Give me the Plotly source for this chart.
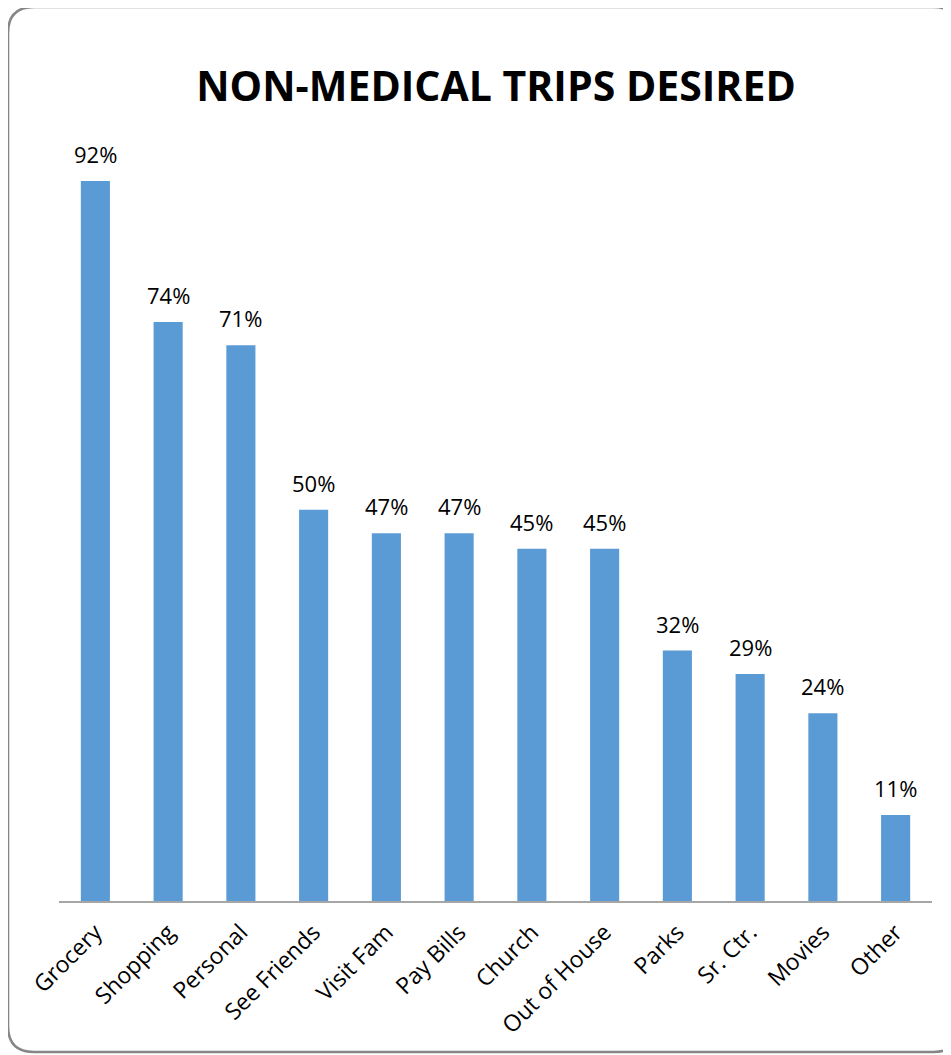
import plotly.graph_objects as go

categories = ["Grocery", "Shopping", "Personal", "See Friends", "Visit Fam", "Pay Bills",
              "Church", "Out of House", "Parks", "Sr. Ctr.", "Movies", "Other"]
values = [92, 74, 71, 50, 47, 47, 45, 45, 32, 29, 24, 11]
labels = [f"{v}%" for v in values]

BAR = "#5B9BD5"
OFF = 8  # page body margin
W, H = 951 - OFF, 1055 - OFF
L, R, T, B = 59 - OFF, 951 - 932.5, 140 - OFF, 1055 - 901
pw, ph = W - L - R, H - T - B

fig = go.Figure(go.Bar(x=categories, y=values, marker_color=BAR, marker_line_width=0,
                       hoverinfo="skip"))

for c, v, t in zip(categories, values, labels):
    fig.add_annotation(x=c, y=v, text=t, showarrow=False, yanchor="bottom", yshift=10,
                       font=dict(family="Open Sans, Noto Sans, sans-serif", size=22, color="#000"))

def px(x):
    return (x - OFF - L) / pw

def py(y):
    return (H - B - (y - OFF)) / ph

x0, x1, y0, y1, r = 8, 960, 7, 1052, 26
path = (f"M {px(x0+r)},{py(y0)} L {px(x1-r)},{py(y0)} Q {px(x1)},{py(y0)} {px(x1)},{py(y0+r)} "
        f"L {px(x1)},{py(y1-r)} Q {px(x1)},{py(y1)} {px(x1-r)},{py(y1)} "
        f"L {px(x0+r)},{py(y1)} Q {px(x0)},{py(y1)} {px(x0)},{py(y1-r)} "
        f"L {px(x0)},{py(y0+r)} Q {px(x0)},{py(y0)} {px(x0+r)},{py(y0)} Z")
fig.add_shape(type="path", path=path, xref="paper", yref="paper",
              line=dict(color="#868686", width=2.5), layer="below")

fig.update_layout(
    width=W, height=H,
    margin=dict(l=L, r=R, t=T, b=B),
    paper_bgcolor="white", plot_bgcolor="white",
    bargap=0.6,
    showlegend=False,
    title=dict(text="<b>NON-MEDICAL TRIPS DESIRED</b>", x=(496 - OFF) / W, xanchor="center",
               y=1 - (87 - OFF) / H, yanchor="middle",
               font=dict(family="Open Sans, sans-serif", size=41, color="#000")),
    xaxis=dict(showgrid=False, showline=True, linecolor="#A6A6A6", linewidth=1.5,
               ticks="", tickangle=-45, ticklabelstandoff=7,
               tickfont=dict(family="Open Sans, Noto Sans, sans-serif", size=23, color="#000")),
    yaxis=dict(visible=False, range=[0, (H - B - T) / 7.826], fixedrange=True),
)

fig.write_html("out.html")
